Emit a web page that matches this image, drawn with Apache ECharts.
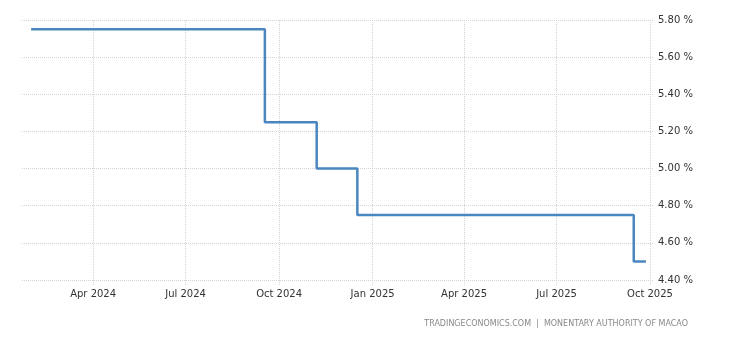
<!DOCTYPE html>
<html><head><meta charset="utf-8">
<script src="https://cdn.jsdelivr.net/npm/echarts@6/dist/echarts.min.js"></script>
<style>html,body{margin:0;padding:0;background:#fff}#c{width:730px;height:340px}</style>
</head><body><div id="c"></div>
<script>
const dates = ['2024-01-31','2024-09-17','2024-11-07','2024-12-17','2025-09-15','2025-09-27'];
const rates = [5.75, 5.25, 5.00, 4.75, 4.50, 4.50];
const tickDates = ['2024-04-01','2024-07-01','2024-10-01','2025-01-01','2025-04-01','2025-07-01','2025-10-01'];
const tickLabels = ['Apr 2024','Jul 2024','Oct 2024','Jan 2025','Apr 2025','Jul 2025','Oct 2025'];
const yMin = 4.4, yMax = 5.8, yStep = 0.2;
const source = 'TRADINGECONOMICS.COM  |  MONENTARY AUTHORITY OF MACAO';

const ts = d => new Date(d + 'T00:00:00Z').getTime();
const tickTs = tickDates.map(ts);
const labelMap = {};
tickTs.forEach((t, i) => labelMap[t] = tickLabels[i]);

const chart = echarts.init(document.getElementById('c'));
chart.setOption({
  animation: false,
  grid: {left: 22, right: 80, top: 20, bottom: 60, containLabel: false},
  xAxis: {
    type: 'value',
    min: ts('2024-01-22'),
    max: ts('2025-10-01'),
    axisLine: {show: false},
    axisTick: {show: true, customValues: tickTs, length: 5, lineStyle: {color: '#d4d4d4', type: 'dotted'}},
    axisLabel: {customValues: tickTs, formatter: v => labelMap[v] || '', color: '#333', fontFamily: 'DejaVu Sans', fontSize: 10, margin: 9, hideOverlap: false},
    splitLine: {show: true, lineStyle: {color: '#d4d4d4', type: 'dotted'}}
  },
  yAxis: {
    type: 'value', position: 'right', min: yMin, max: yMax, interval: yStep,
    axisLine: {show: false},
    axisTick: {show: true, length: 4, lineStyle: {color: '#d4d4d4', type: 'dotted'}},
    axisLabel: {formatter: v => v.toFixed(2) + ' %', color: '#333', fontFamily: 'DejaVu Sans', fontSize: 10, margin: 8},
    splitLine: {show: true, lineStyle: {color: '#d4d4d4', type: 'dotted'}}
  },
  graphic: [{type: 'text', right: 42, top: 320, style: {text: source, fill: '#888', font: '8px "DejaVu Sans"'}}],
  series: [{
    type: 'line', step: 'end', symbol: 'none',
    data: dates.map((d, i) => [ts(d), rates[i]]),
    lineStyle: {color: '#4a86c0', width: 2.5}
  }]
});
</script></body></html>
